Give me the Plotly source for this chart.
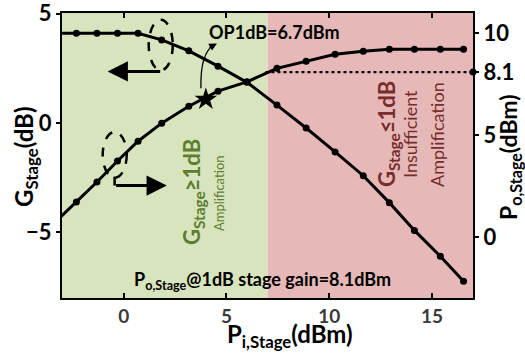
import plotly.graph_objects as go

# ---- data ----
pin = [-3.3, -2.3, -1.3, -0.3, 0.7, 1.85, 3.17, 4.59, 6.0, 7.46, 8.88, 10.29, 11.66, 12.93, 14.15, 15.41, 16.54]
gain = [4.1, 4.1, 4.1, 4.1, 4.1, 3.8, 3.3, 2.6, 1.86, 0.82, -0.23, -1.32, -2.41, -3.64, -4.91, -6.09, -7.23]
pout = [0.75, 1.72, 2.7, 3.73, 4.7, 5.59, 6.42, 7.16, 7.62, 8.28, 8.63, 8.97, 9.12, 9.22, 9.22, 9.22, 9.22]
op1db_x = [4.0]
op1db_y = [6.76]
p1db_stage = 8.1
p1db_x_start = 6.9
split_x = 7.0
x_range = [-3, 17]
yl_range = [-8, 5.03]
yr_range = [-3, 11]
x_ticks = [0, 5, 10, 15]
yl_ticks = [-5, 0, 5]
yr_ticks = [0, 5, 8.1, 10]
yr_ticktext = ["0", "5", "8.1", "10"]

FONT = "Lato"
GREEN_BG = "#D7E4BD"
RED_BG = "#E6B9B8"
GREEN_TX = "#5E7D2E"
RED_TX = "#782D2D"

fig = go.Figure()

fig.add_trace(go.Scatter(x=pin, y=gain, mode="lines+markers", yaxis="y",
                         line=dict(color="black", width=3),
                         marker=dict(color="black", size=7), showlegend=False))
fig.add_trace(go.Scatter(x=pin, y=pout, mode="lines+markers", yaxis="y2",
                         line=dict(color="black", width=3),
                         marker=dict(color="black", size=7), showlegend=False))
fig.add_trace(go.Scatter(x=[p1db_x_start, x_range[1]], y=[p1db_stage, p1db_stage], mode="lines",
                         yaxis="y2", line=dict(color="black", width=2.2, dash="3px,3px"),
                         showlegend=False))
fig.add_trace(go.Scatter(x=[x_range[1]], y=[p1db_stage], mode="markers", yaxis="y2",
                         marker=dict(color="black", size=7), cliponaxis=False, showlegend=False))
fig.add_trace(go.Scatter(x=op1db_x, y=op1db_y, mode="markers", yaxis="y2",
                         marker=dict(color="black", size=17, symbol="star"), showlegend=False))

shapes = [
    dict(type="rect", xref="x", yref="paper", x0=x_range[0], x1=split_x, y0=0, y1=1,
         fillcolor=GREEN_BG, line=dict(width=0), layer="below"),
    dict(type="rect", xref="x", yref="paper", x0=split_x, x1=x_range[1], y0=0, y1=1,
         fillcolor=RED_BG, line=dict(width=0), layer="below"),
    # dashed ellipses
    dict(type="circle", xref="x", yref="y", x0=1.22, x1=2.39, y0=2.41, y1=4.72,
         line=dict(color="black", width=2.5, dash="dash")),
    dict(type="circle", xref="x", yref="y", x0=-1.02, x1=0.15, y0=-2.5, y1=-0.41,
         line=dict(color="black", width=2.5, dash="dash")),
    # curved OP1dB pointer
    dict(type="path", xref="x", yref="y", path="M 3.76 1.59 Q 3.72 3.2 4.4 3.58",
         line=dict(color="black", width=1.3)),
    # small connector of right arrow
    dict(type="line", xref="x", yref="y", x0=-0.44, x1=-0.44, y0=-2.86, y1=-2.45,
         line=dict(color="black", width=2.5)),
]

def pp(px, py):
    return (px - 62) / 411, (298 - py) / 285

ann = []
# arrows
ann.append(dict(x=-0.78, y=2.36, ax=1.85, ay=2.36, xref="x", yref="y", axref="x", ayref="y",
                showarrow=True, arrowhead=2, arrowsize=1.35, arrowwidth=3, arrowcolor="black", text=""))
ann.append(dict(x=2.1, y=-2.86, ax=-0.44, ay=-2.86, xref="x", yref="y", axref="x", ayref="y",
                showarrow=True, arrowhead=2, arrowsize=1.35, arrowwidth=3, arrowcolor="black", text=""))
ann.append(dict(x=4.54, y=3.64, ax=-9, ay=5, xref="x", yref="y",
                showarrow=True, arrowhead=2, arrowsize=1.2, arrowwidth=1.3, arrowcolor="black", text=""))

def txt(text, px, py, size, color="black", weight="bold", angle=0):
    x, y = pp(px, py)
    ann.append(dict(x=x, y=y, xref="paper", yref="paper", text=text, showarrow=False,
                    textangle=angle, xanchor="center", yanchor="middle",
                    font=dict(family=FONT, size=size, color=color, weight=weight)))

txt("OP1dB=6.7dBm", 274, 32, 18)
txt("P<sub>o,Stage</sub>@1dB stage gain=8.1dBm", 262, 280, 18)
txt("G<sub>Stage</sub>≥1dB", 193, 192, 22, GREEN_TX, angle=-90)
txt("Amplification", 219, 193, 13, GREEN_TX, weight="normal", angle=-90)
txt("G<sub>Stage</sub>≤1dB", 388, 134, 22, RED_TX, angle=-90)
txt("Insufficient", 410, 134, 18, RED_TX, weight="normal", angle=-90)
txt("Amplification", 437, 135, 18, RED_TX, weight="normal", angle=-90)
# axis titles
txt("G<sub>Stage</sub>(dB)", 25, 157, 24, angle=-90)
txt("P<sub>o,Stage</sub>(dBm)", 509, 157, 23, angle=-90)
txt("P<sub>i,Stage</sub>(dBm)", 290, 335, 24)

tickfont = dict(family=FONT, size=22, color="black", weight="bold")

fig.update_layout(
    width=525, height=354,
    margin=dict(l=62, r=52, t=13, b=56, autoexpand=False),
    paper_bgcolor="white", plot_bgcolor="white",
    shapes=shapes, annotations=ann,
    xaxis=dict(range=x_range, tickvals=x_ticks, ticks="inside", ticklen=5, tickwidth=1.5,
               tickcolor="black", showline=True, linecolor="black", linewidth=2, mirror="ticks",
               showgrid=False, zeroline=False, automargin=False,
               tickfont=dict(family=FONT, size=19, color="#3a3a3a", weight="bold")),
    yaxis=dict(range=yl_range, tickvals=yl_ticks, ticks="outside", ticklen=4, tickwidth=1.5,
               tickcolor="black", showline=True, linecolor="black", linewidth=2, mirror=True,
               showgrid=False, zeroline=False, tickfont=tickfont, ticklabeloverflow="allow",
               automargin=False),
    yaxis2=dict(range=yr_range, tickvals=yr_ticks, ticktext=yr_ticktext, overlaying="y",
                side="right", ticks="outside", ticklen=4, tickwidth=1.5, tickcolor="black",
                showline=True, linecolor="black", linewidth=2, showgrid=False, zeroline=False,
                tickfont=tickfont, automargin=False),
)

fig.write_html("out.html")
